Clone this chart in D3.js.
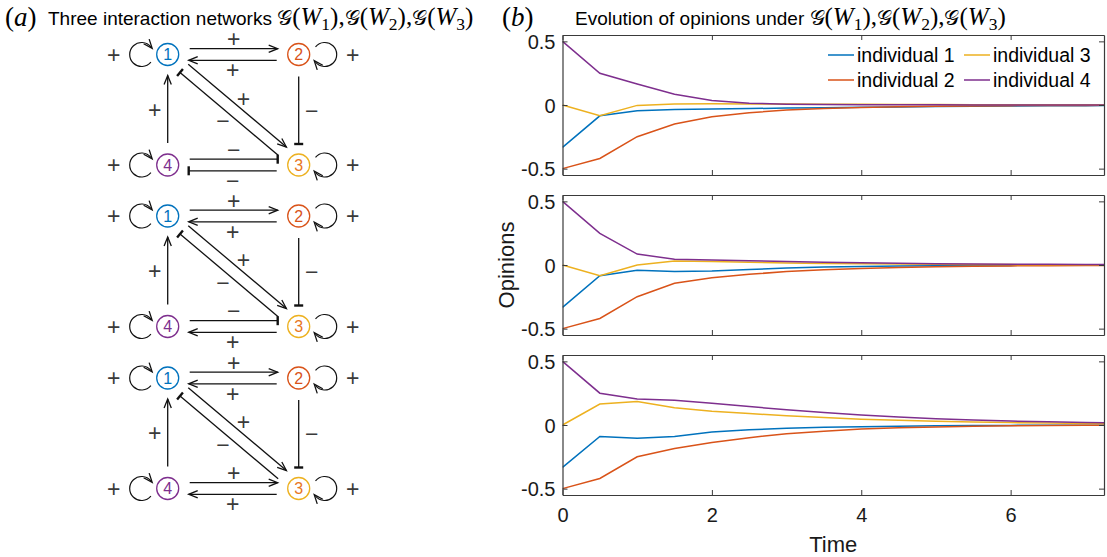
<!DOCTYPE html>
<html>
<head>
<meta charset="utf-8">
<script src="https://cdn.jsdelivr.net/npm/d3@7/dist/d3.min.js"></script>
<style>
  body { margin: 0; background: #fff; }
  svg { font-family: "Liberation Sans", Arial, sans-serif; }
</style>
</head>
<body>
<script>
// ---- data: opinions over time, one array per individual and network ----
const times = [0, 0.5, 1, 1.5, 2, 2.5, 3, 3.5, 4, 4.5, 5, 5.5, 6, 6.5, 7, 7.5];

const w1Ind1 = [-0.333, -0.085, -0.045, -0.035, -0.031, -0.028, -0.024, -0.021, -0.018, -0.015, -0.012, -0.010, -0.008, -0.006, -0.005, -0.004];
const w1Ind2 = [-0.5, -0.42, -0.249, -0.149, -0.093, -0.060, -0.040, -0.028, -0.020, -0.014, -0.010, -0.007, -0.005, -0.004, -0.003, -0.002];
const w1Ind3 = [0, -0.085, -0.003, 0.008, 0.009, 0.008, 0.007, 0.006, 0.005, 0.004, 0.003, 0.002, 0.002, 0.001, 0.001, 0.001];
const w1Ind4 = [0.5, 0.249, 0.165, 0.084, 0.035, 0.014, 0.006, 0.003, 0.002, 0.001, 0.001, 0, 0, 0, 0, 0];

const w2Ind1 = [-0.333, -0.084, -0.042, -0.052, -0.047, -0.035, -0.024, -0.016, -0.011, -0.008, -0.005, -0.004, -0.003, -0.002, -0.001, -0.001];
const w2Ind2 = [-0.5, -0.42, -0.249, -0.144, -0.100, -0.073, -0.052, -0.038, -0.027, -0.019, -0.014, -0.010, -0.007, -0.005, -0.004, -0.003];
const w2Ind3 = [0, -0.084, 0, 0.031, 0.028, 0.022, 0.016, 0.012, 0.009, 0.007, 0.005, 0.004, 0.003, 0.002, 0.002, 0.001];
const w2Ind4 = [0.5, 0.249, 0.086, 0.045, 0.040, 0.034, 0.028, 0.022, 0.017, 0.013, 0.010, 0.008, 0.006, 0.005, 0.004, 0.003];

const w3Ind1 = [-0.333, -0.090, -0.105, -0.090, -0.055, -0.037, -0.026, -0.018, -0.013, -0.009, -0.006, -0.004, -0.003, -0.002, -0.001, -0.001];
const w3Ind2 = [-0.5, -0.42, -0.25, -0.185, -0.138, -0.100, -0.068, -0.050, -0.031, -0.022, -0.015, -0.010, -0.006, -0.004, -0.002, -0.001];
const w3Ind3 = [0, 0.165, 0.185, 0.135, 0.108, 0.090, 0.072, 0.058, 0.046, 0.037, 0.030, 0.024, 0.019, 0.015, 0.012, 0.010];
const w3Ind4 = [0.5, 0.25, 0.205, 0.195, 0.170, 0.145, 0.120, 0.098, 0.078, 0.062, 0.050, 0.040, 0.031, 0.025, 0.020, 0.016];

const panels = [
  [w1Ind1, w1Ind2, w1Ind3, w1Ind4],
  [w2Ind1, w2Ind2, w2Ind3, w2Ind4],
  [w3Ind1, w3Ind2, w3Ind3, w3Ind4]
];

const seriesNames = ["individual 1", "individual 2", "individual 3", "individual 4"];
const seriesColors = ["#0072BD", "#D95319", "#EDB120", "#7E2F8E"];

const yTicks = [-0.5, 0, 0.5];
const yTickLabels = ["-0.5", "0", "0.5"];
const xTicks = [0, 2, 4, 6];
const xTickLabels = ["0", "2", "4", "6"];

// ---- data: the three signed networks ----
const nodeIds = [1, 2, 3, 4];
const nodeStroke = {1: "#0072BD", 2: "#D95319", 3: "#EDB120", 4: "#7E2F8E"};
const nodeText = {1: "#0072BD", 2: "#D95319", 3: "#E8761E", 4: "#7E2F8E"};
const selfSign = {1: "+", 2: "+", 3: "+", 4: "+"};

const edgesW1 = [[1, 2, "+"], [2, 1, "+"], [2, 3, "-"], [1, 3, "+"], [3, 1, "-"], [4, 1, "+"], [4, 3, "-"], [3, 4, "-"]];
const edgesW2 = [[1, 2, "+"], [2, 1, "+"], [2, 3, "-"], [1, 3, "+"], [3, 1, "-"], [4, 1, "+"], [4, 3, "-"], [3, 4, "+"]];
const edgesW3 = [[1, 2, "+"], [2, 1, "+"], [2, 3, "-"], [1, 3, "+"], [3, 1, "-"], [4, 1, "+"], [4, 3, "+"], [3, 4, "+"]];
const networks = [edgesW1, edgesW2, edgesW3];

// ---- svg ----
const W = 1107, H = 557;
const svg = d3.select("body").append("svg")
  .attr("width", W)
  .attr("height", H);

const axisColor = "#3a3a3a";
const serif = "Liberation Serif, serif";

// math helper: G(W_k)
function addMath(t, k, size) {
  t.append("tspan").attr("font-family", "DejaVu Serif, " + serif).attr("font-size", size * 0.85).text("𝒢");
  t.append("tspan").attr("font-family", serif).attr("font-size", size).text("(");
  t.append("tspan").attr("font-family", serif).attr("font-size", size).attr("font-style", "italic").text("W");
  t.append("tspan").attr("font-family", serif).attr("font-size", size * 0.7).attr("dy", size * 0.2).text(k);
  t.append("tspan").attr("font-family", serif).attr("font-size", size).attr("dy", -size * 0.2).text(")");
}

function addLetter(x, y, letter, size) {
  const t = svg.append("text").attr("x", x).attr("y", y).attr("font-size", size)
    .attr("font-family", serif).attr("fill", "#000");
  t.append("tspan").text("(");
  t.append("tspan").attr("font-style", "italic").text(letter);
  t.append("tspan").text(")");
}

function addTitle(x0, words, mathSize) {
  const t = svg.append("text").attr("x", x0).attr("y", 25).attr("font-size", 19).attr("fill", "#000");
  t.append("tspan").text(words);
  [1, 2, 3].forEach((k, i) => {
    addMath(t, k, mathSize);
    if (i < 2) t.append("tspan").attr("font-family", serif).attr("font-size", mathSize).text(",");
  });
}

addLetter(5, 26, "a", 27);
addTitle(48, "Three interaction networks ", 25);
addLetter(502, 26, "b", 27);
addTitle(575, "Evolution of opinions under ", 25);

// ---- right: three line panels ----
const plotLeft = 562.5, plotRight = 1104;
const panelTops = [35, 195, 355];
const panelH = 140;

const x = d3.scaleLinear().domain([0, 7.25]).range([plotLeft, plotRight]);

svg.append("defs").append("clipPath").attr("id", "plotclip")
  .append("rect").attr("x", plotLeft).attr("y", 0).attr("width", plotRight - plotLeft).attr("height", panelH);

panels.forEach((series, p) => {
  const top = panelTops[p];
  const y = d3.scaleLinear().domain([-0.55, 0.55]).range([panelH, 0]);
  const g = svg.append("g").attr("transform", `translate(0,${top})`);

  const lines = g.append("g").attr("clip-path", "url(#plotclip)");
  const line = d3.line().x((d, i) => x(times[i])).y(d => y(d));
  series.forEach((vals, s) => {
    lines.append("path")
      .datum(vals)
      .attr("d", line)
      .attr("fill", "none")
      .attr("stroke", seriesColors[s])
      .attr("stroke-width", 1.5);
  });

  // axes on all four sides, ticks inward
  const bottom = g.append("g").attr("transform", `translate(0,${panelH})`)
    .call(d3.axisBottom(x).tickValues(xTicks).tickSize(-5).tickSizeOuter(0)
      .tickFormat((d, i) => p === 2 ? xTickLabels[i] : ""));
  const topAx = g.append("g")
    .call(d3.axisTop(x).tickValues(xTicks).tickSize(-5).tickSizeOuter(0).tickFormat(""));
  const left = g.append("g").attr("transform", `translate(${plotLeft},0)`)
    .call(d3.axisLeft(y).tickValues(yTicks).tickSize(-5).tickSizeOuter(0)
      .tickFormat((d, i) => yTickLabels[i]));
  const right = g.append("g").attr("transform", `translate(${plotRight},0)`)
    .call(d3.axisRight(y).tickValues(yTicks).tickSize(-5).tickSizeOuter(0).tickFormat(""));

  [bottom, topAx, left, right].forEach(a => {
    a.select(".domain").attr("stroke", axisColor).attr("stroke-width", 1.2);
    a.selectAll(".tick line").attr("stroke", axisColor).attr("stroke-width", 1);
    a.selectAll(".tick text").attr("fill", "#1a1a1a").attr("font-size", 20)
      .attr("font-family", "Liberation Sans, Arial, sans-serif");
  });
  left.selectAll(".tick text").attr("x", -7).attr("dy", "0.36em");
  bottom.selectAll(".tick text").attr("y", 13).attr("dy", "0.71em");
});

// axis labels
svg.append("text")
  .attr("x", (plotLeft + plotRight) / 2).attr("y", 552)
  .attr("text-anchor", "middle").attr("font-size", 22).attr("fill", "#1a1a1a")
  .text("Time");
svg.append("text")
  .attr("transform", `translate(514,${panelTops[1] + panelH / 2}) rotate(-90)`)
  .attr("text-anchor", "middle").attr("font-size", 22).attr("fill", "#1a1a1a")
  .text("Opinions");

// legend, two columns filled column-wise
const legend = svg.append("g");
seriesNames.forEach((name, i) => {
  const col = Math.floor(i / 2), row = i % 2;
  const lx = 828 + col * 136, ly = 55 + row * 25;
  legend.append("line").attr("x1", lx).attr("x2", lx + 26).attr("y1", ly).attr("y2", ly)
    .attr("stroke", seriesColors[i]).attr("stroke-width", 1.5);
  legend.append("text").attr("x", lx + 29).attr("y", ly).attr("dy", "0.35em")
    .attr("font-size", 19.5).attr("fill", "#000").text(name);
});

// ---- left: network diagrams ----
const netTops = [54.5, 216, 378];
const colX = d3.scalePoint().domain([0, 1]).range([167.7, 298.7]);
const rowY = d3.scalePoint().domain([0, 1]).range([0, 110.5]);
const nodeCol = {1: 0, 2: 1, 3: 1, 4: 0};
const nodeRow = {1: 0, 2: 0, 3: 1, 4: 1};
const ink = "#111";
const signColor = "#3a3a3a";

function signText(s) { return s === "-" ? "\u2212" : "+"; }

function arrowHead(g, tip, dir) {
  const n = [dir[1], -dir[0]];
  const L = 9, Wd = 3.6;
  const a = [tip[0] - dir[0] * L + n[0] * Wd, tip[1] - dir[1] * L + n[1] * Wd];
  const b = [tip[0] - dir[0] * L - n[0] * Wd, tip[1] - dir[1] * L - n[1] * Wd];
  g.append("path")
    .attr("d", `M${a[0]},${a[1]}L${tip[0]},${tip[1]}L${b[0]},${b[1]}`)
    .attr("fill", "none").attr("stroke", ink).attr("stroke-width", 1.3);
}

function tBar(g, tip, dir) {
  const n = [dir[1], -dir[0]];
  const h = 4.5;
  g.append("line")
    .attr("x1", tip[0] + n[0] * h).attr("y1", tip[1] + n[1] * h)
    .attr("x2", tip[0] - n[0] * h).attr("y2", tip[1] - n[1] * h)
    .attr("stroke", ink).attr("stroke-width", 2.4);
}

networks.forEach((edges, k) => {
  const g = svg.append("g").attr("transform", `translate(0,${netTops[k]})`);
  const pos = {};
  nodeIds.forEach(id => { pos[id] = [colX(nodeCol[id]), rowY(nodeRow[id])]; });

  // edges
  edges.forEach(([s, t, sign]) => {
    const paired = edges.some(e => e[0] === t && e[1] === s);
    const ps = pos[s], pt = pos[t];
    const dx = pt[0] - ps[0], dy = pt[1] - ps[1];
    const len = Math.hypot(dx, dy);
    const dir = [dx / len, dy / len];
    const n = [dir[1], -dir[0]];
    const off = paired ? 5.8 : 0;
    const g1 = 22, g2 = 21;
    const a = [ps[0] + dir[0] * g1 + n[0] * off, ps[1] + dir[1] * g1 + n[1] * off];
    const b = [pt[0] - dir[0] * g2 + n[0] * off, pt[1] - dir[1] * g2 + n[1] * off];
    g.append("line")
      .attr("x1", a[0]).attr("y1", a[1]).attr("x2", b[0]).attr("y2", b[1])
      .attr("stroke", ink).attr("stroke-width", 1.3);
    if (sign === "+") arrowHead(g, b, dir); else tBar(g, b, dir);
    const lab = paired ? 9.5 : 13;
    const mid = [(a[0] + b[0]) / 2 + n[0] * lab, (a[1] + b[1]) / 2 + n[1] * lab];
    g.append("text")
      .attr("x", mid[0]).attr("y", mid[1]).attr("dy", "0.36em")
      .attr("text-anchor", "middle").attr("font-size", 23).attr("fill", signColor)
      .text(signText(sign));
  });

  // self loops
  nodeIds.forEach(id => {
    const [cx, cy] = pos[id];
    const side = nodeCol[id] === 0 ? -1 : 1;
    const lc = [cx + side * 26, cy];
    const r = 12;
    const a0 = (side < 0 ? 40 : 220) * Math.PI / 180;
    const a1 = a0 + 280 * Math.PI / 180;
    const p0 = [lc[0] + r * Math.cos(a0), lc[1] + r * Math.sin(a0)];
    const p1 = [lc[0] + r * Math.cos(a1), lc[1] + r * Math.sin(a1)];
    g.append("path")
      .attr("d", `M${p0[0]},${p0[1]}A${r},${r} 0 1 1 ${p1[0]},${p1[1]}`)
      .attr("fill", "none").attr("stroke", ink).attr("stroke-width", 1.2);
    arrowHead(g, [p1[0] + (-Math.sin(a1)) * 2, p1[1] + Math.cos(a1) * 2], [-Math.sin(a1), Math.cos(a1)]);
    g.append("text")
      .attr("x", cx + side * 54).attr("y", cy).attr("dy", "0.36em")
      .attr("text-anchor", "middle").attr("font-size", 23).attr("fill", signColor)
      .text(signText(selfSign[id]));
  });

  // nodes
  nodeIds.forEach(id => {
    const [cx, cy] = pos[id];
    g.append("circle").attr("cx", cx).attr("cy", cy).attr("r", 11)
      .attr("fill", "#fff").attr("stroke", nodeStroke[id]).attr("stroke-width", 1.3);
    g.append("text").attr("x", cx).attr("y", cy).attr("dy", "0.36em")
      .attr("text-anchor", "middle").attr("font-size", 16).attr("fill", nodeText[id])
      .text(id);
  });
});
</script>
</body>
</html>
